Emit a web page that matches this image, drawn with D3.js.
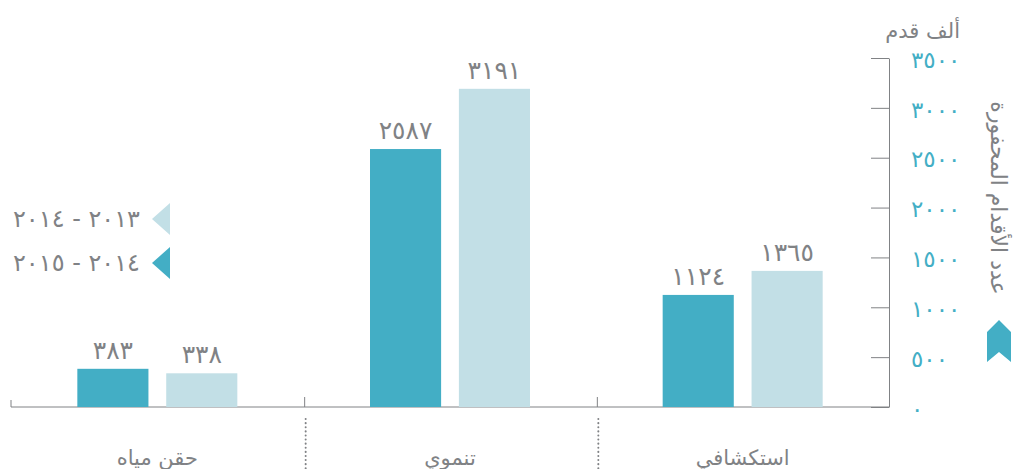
<html>
<head>
<script src="https://d3js.org/d3.v7.min.js"></script>
<style>
  body { margin: 0; background: white; }
  text { font-family: "DejaVu Sans", sans-serif; }
</style>
</head>
<body>
<svg width="1014" height="469"></svg>
<script>
// categories from right to left, as the chart reads
var categories = ["استكشافي", "تنموي", "حقن مياه"];
var series = ["2013-2014", "2014-2015"];
var values2013 = [1365, 3191, 338];
var values2014 = [1124, 2587, 383];
var yTicks = [0, 500, 1000, 1500, 2000, 2500, 3000, 3500];
var legendLabels = ["٢٠١٣ - ٢٠١٤", "٢٠١٤ - ٢٠١٥"];
var colors = {"2013-2014": "#c2dfe6", "2014-2015": "#43aec5"};
var grey = "#808285";

var svg = d3.select("svg");
var plotLeft = 11, plotRight = 889, plotTop = 58, plotBottom = 407;

function arab(n) {
  return String(n).replace(/[0-9]/g, function(d) { return "٠١٢٣٤٥٦٧٨٩"[+d]; });
}

var x = d3.scaleBand().domain(categories).range([plotRight, plotLeft]);
var xs = d3.scaleBand().domain(["2014-2015", "2013-2014"]).range([-80, 80]).paddingInner(0.2);
var y = d3.scaleLinear().domain([0, 3500]).range([plotBottom, plotTop]);

var data = [];
categories.forEach(function(c, i) {
  data.push({cat: c, s: "2013-2014", v: values2013[i]});
  data.push({cat: c, s: "2014-2015", v: values2014[i]});
});

// y axis
var yAxis = svg.append("g").attr("transform", "translate(" + plotRight + ",0)")
  .call(d3.axisLeft(y).tickValues(yTicks).tickSize(18).tickSizeOuter(0).tickFormat(arab));
yAxis.select(".domain").attr("stroke", grey);
yAxis.selectAll(".tick line").attr("stroke", grey);
yAxis.selectAll(".tick text")
  .attr("x", 22).attr("dy", "0.4em").attr("text-anchor", "start").attr("fill", "#43aec5")
  .style("font-size", "23px").style("letter-spacing", "3px");

// baseline
svg.append("line").attr("x1", plotLeft).attr("x2", plotRight).attr("y1", plotBottom).attr("y2", plotBottom).attr("stroke", grey);

// separators
var bounds = categories.map(function(c) { return x(c); }).filter(function(v) { return v > plotLeft + 1; });
svg.append("line").attr("x1", plotLeft).attr("x2", plotLeft).attr("y1", plotBottom - 7).attr("y2", plotBottom).attr("stroke", grey);
bounds.forEach(function(b) {
  svg.append("line").attr("x1", b + 1).attr("x2", b + 1).attr("y1", plotBottom - 10).attr("y2", plotBottom).attr("stroke", grey);
  svg.append("line").attr("x1", b + 2).attr("x2", b + 2).attr("y1", 419).attr("y2", 469)
    .attr("stroke", grey).attr("stroke-width", 2).attr("stroke-linecap", "round").attr("stroke-dasharray", "0.1,4");
});

// bars
var cx = function(d) { return x(d.cat) + x.bandwidth() / 2; };
svg.append("g").selectAll("rect").data(data).enter().append("rect")
  .attr("x", function(d) { return cx(d) + xs(d.s); })
  .attr("y", function(d) { return y(d.v); })
  .attr("width", xs.bandwidth())
  .attr("height", function(d) { return plotBottom - y(d.v); })
  .attr("fill", function(d) { return colors[d.s]; });

svg.append("g").selectAll("text").data(data).enter().append("text")
  .attr("x", function(d) { return cx(d) + xs(d.s) + xs.bandwidth() / 2; })
  .attr("y", function(d) { return y(d.v) - 10; })
  .attr("text-anchor", "middle").attr("fill", grey)
  .style("font-size", "25px").style("letter-spacing", "2px")
  .text(function(d) { return arab(d.v); });

// category labels
svg.append("g").selectAll("text").data(categories).enter().append("text")
  .attr("x", function(d) { return x(d) + x.bandwidth() / 2; })
  .attr("y", 465).attr("text-anchor", "middle").attr("fill", grey)
  .style("font-size", "21px").text(function(d) { return d; });

// legend
series.forEach(function(s, i) {
  var ly = 219 + i * 44;
  svg.append("path").attr("d", "M152," + ly + "L170," + (ly - 16) + "L170," + (ly + 16) + "Z").attr("fill", colors[s]);
  svg.append("text").attr("x", 140).attr("y", ly + 8).attr("text-anchor", "end").attr("fill", grey)
    .style("font-size", "24px").style("letter-spacing", "3px").text(legendLabels[i]);
});

// units
svg.append("text").attr("x", 960).attr("y", 38).attr("text-anchor", "end").attr("fill", grey)
  .style("font-size", "21px").text("ألف قدم");

// axis title
svg.append("text").attr("transform", "translate(991,198) rotate(90)")
  .attr("text-anchor", "middle").attr("fill", grey)
  .style("font-size", "22px").text("عدد الأقدام المحفورة");

svg.append("path").attr("d", "M999,320L1011,332L1011,362L999,352L987,362L987,332Z").attr("fill", "#43aec5");
</script>
</body>
</html>
